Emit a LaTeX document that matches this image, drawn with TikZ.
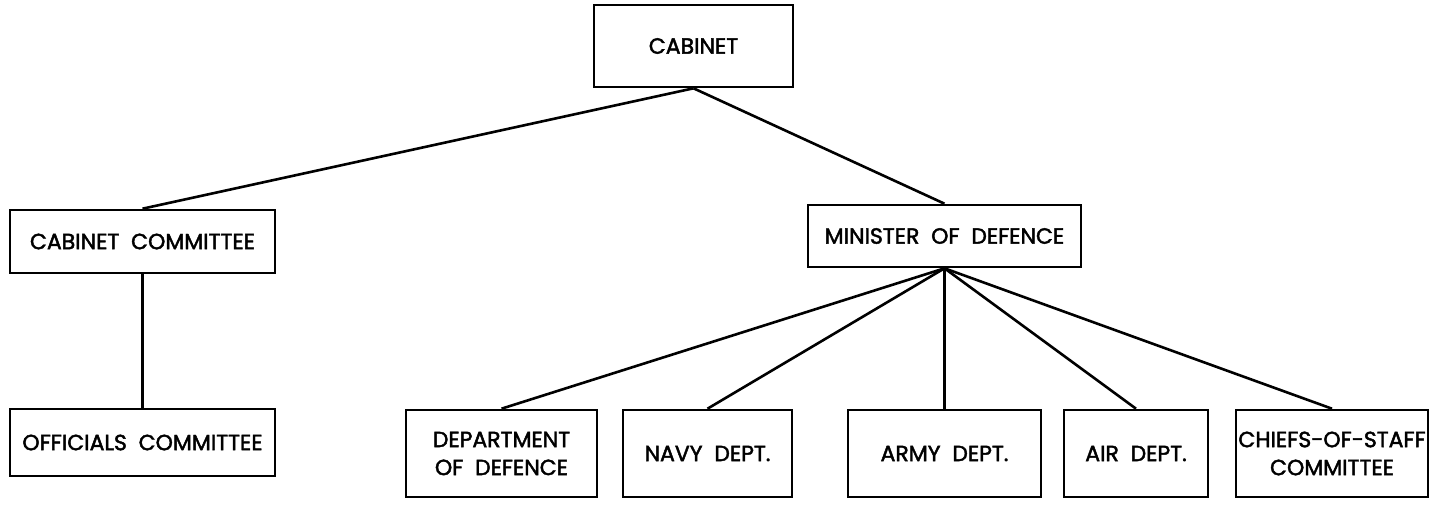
\documentclass[tikz,border=0pt]{standalone}
\usepackage{fontspec}
\newfontfamily\chartfont{Poppins}[FakeBold=2]
\usepackage{tikz}
\usetikzlibrary{positioning}

\begin{document}
\begin{tikzpicture}[
    x=0.5pt, y=-0.5pt,
    unit/.style={draw, line width=1.3pt, minimum height=43.5pt, align=center, font=\chartfont\fontsize{11}{14}\selectfont, inner sep=1pt},
    link/.style={line width=1.3pt}
]
\useasboundingbox (0,0) rectangle (1434,504);

\node[unit, minimum width=99.5pt, minimum height=41pt, font=\chartfont\fontsize{11}{13}\selectfont] (cab) at (693.5,46) {CABINET};
\node[unit, minimum width=132.5pt, minimum height=31.5pt] (cc) at (142.5,241.5) {CABINET\ \ COMMITTEE};
\node[unit, minimum width=136.5pt, minimum height=31pt] (mod) at (944.5,236) {MINISTER\ \ OF\ \ DEFENCE};
\node[unit, minimum width=132.5pt, minimum height=33.5pt] (oc) at (142.5,442.5) {OFFICIALS\ \ COMMITTEE};

\node[unit, minimum width=95.5pt] (dod) at (501.5,453.5) {DEPARTMENT\\OF\ \ DEFENCE};
\node[unit, minimum width=84.5pt] (navy) at (707.5,453.5) {NAVY\ \ DEPT.};
\node[unit, minimum width=96.5pt] (army) at (944.5,453.5) {ARMY\ \ DEPT.};
\node[unit, minimum width=72pt] (air) at (1136,453.5) {AIR\ \ DEPT.};
\node[unit, minimum width=96pt] (cos) at (1332,453.5) {CHIEFS-OF-STAFF\\COMMITTEE};

\draw[link] (cab.south) -- (cc.north);
\draw[link] (cab.south) -- (mod.north);
\draw[link] (cc.south) -- (oc.north);
\foreach \n in {dod,navy,army,air,cos}
    \draw[link] (mod.south) -- (\n.north);
\end{tikzpicture}
\end{document}
